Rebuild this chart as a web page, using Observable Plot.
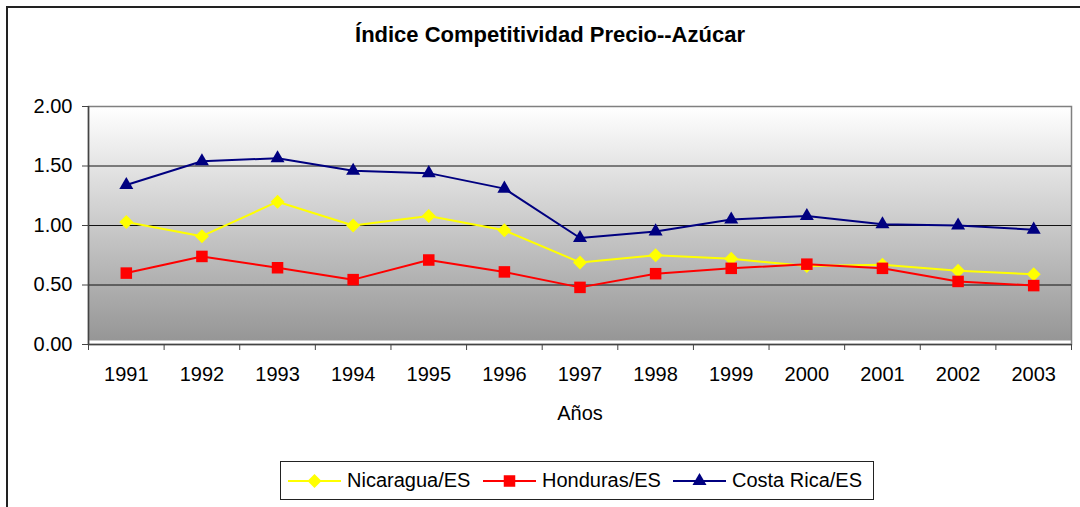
<!DOCTYPE html>
<html>
<head>
<meta charset="utf-8">
<script src="https://cdn.jsdelivr.net/npm/d3@7"></script>
<script src="https://cdn.jsdelivr.net/npm/@observablehq/plot@0.6"></script>
<style>
  html, body { margin: 0; padding: 0; background: #fff; }
  #wrap { position: relative; width: 1080px; height: 507px; overflow: hidden; background: #fff;
          font-family: "Liberation Sans", Arial, sans-serif; color: #000; }
  #border { position: absolute; left: 6px; top: 6px; width: 1200px; height: 600px;
            border-left: 2px solid #222; border-top: 2px solid #222; }
  #title { position: absolute; top: 24px; left: 550px; transform: translateX(-50%); white-space: nowrap;
           font-size: 22px; line-height: 22px; font-weight: bold; }
  #chart { position: absolute; left: 0; top: 0; }
  #legend { position: absolute; left: 280px; top: 461px; width: 594px; height: 39px;
            border: 1px solid #222; box-sizing: border-box; background: #fff; }
  .item { position: absolute; top: 0; height: 37px; display: flex; align-items: center; font-size: 20px; }
  .item svg { margin-right: 6px; }
</style>
</head>
<body>
<div id="wrap">
  <div id="border"></div>
  <div id="title">Índice Competitividad Precio--Azúcar</div>
  <div id="chart"></div>
  <div id="legend"></div>
</div>
<script>
const years = [1991, 1992, 1993, 1994, 1995, 1996, 1997, 1998, 1999, 2000, 2001, 2002, 2003];
const nicaragua = [1.03, 0.91, 1.20, 1.00, 1.08, 0.96, 0.69, 0.75, 0.72, 0.66, 0.67, 0.62, 0.59];
const honduras  = [0.60, 0.74, 0.645, 0.545, 0.71, 0.61, 0.48, 0.595, 0.64, 0.675, 0.64, 0.53, 0.495];
const costaRica = [1.34, 1.54, 1.565, 1.46, 1.44, 1.31, 0.895, 0.95, 1.05, 1.08, 1.01, 1.00, 0.965];
const seriesNames = ["Nicaragua/ES", "Honduras/ES", "Costa Rica/ES"];
const seriesColors = ["#FFFF00", "#FF0000", "#000080"];
const seriesSymbols = ["diamond2", "square", "triangle"];
const seriesR = [6.3, 6.5, 5.2];
const yTicks = [0, 0.5, 1, 1.5, 2];

const seriesValues = [nicaragua, honduras, costaRica];
const rows = [];
seriesNames.forEach((name, i) => {
  years.forEach((yr, j) => rows.push({series: name, year: yr, value: seriesValues[i][j]}));
});
const xMin = years[0] - 0.5, xMax = years[years.length - 1] + 0.5;
const bounds = [...years.map(y => y - 0.5), xMax];

const marks = [
  Plot.frame({fill: "url(#bgGrad)", stroke: null, insetBottom: 4}),
  Plot.frame({fill: "none", stroke: "#808080", strokeWidth: 1.5}),
  Plot.ruleY([0.5, 1, 1.5], {stroke: "#111", strokeWidth: 1}),
  Plot.ruleY([0], {stroke: "#444", strokeWidth: 1.5}),
  Plot.ruleX([xMin], {stroke: "#444", strokeWidth: 1.5}),
  Plot.axisY({ticks: yTicks, tickFormat: d => d.toFixed(2), tickSize: 6, tickPadding: 10, stroke: "#444", label: null, fontSize: 20}),
  Plot.axisX({ticks: years, tickFormat: d => String(d), tickSize: 0, tickPadding: 22, label: null, fontSize: 20}),
  Plot.axisX({ticks: bounds, tickFormat: () => "", tickSize: 6, stroke: "#444", label: null}),
  Plot.text(["Años"], {frameAnchor: "bottom", dy: 75, fontSize: 20, text: d => d})
];
seriesNames.forEach((name, i) => {
  const data = rows.filter(r => r.series === name);
  marks.push(Plot.line(data, {x: "year", y: "value", stroke: seriesColors[i], strokeWidth: 2}));
  marks.push(Plot.dot(data, {x: "year", y: "value", fill: seriesColors[i], stroke: "none", symbol: seriesSymbols[i], r: seriesR[i]}));
});

const chart = Plot.plot({
  width: 1080,
  height: 440,
  marginLeft: 88,
  marginRight: 9,
  marginTop: 106,
  marginBottom: 96,
  style: {fontFamily: "'Liberation Sans', Arial, sans-serif", fontSize: "20px", color: "#000", background: "transparent", overflow: "visible"},
  x: {type: "linear", domain: [xMin, xMax]},
  y: {domain: [0, 2]},
  marks
});

// gradient definition for plot background
const ns = "http://www.w3.org/2000/svg";
const defs = document.createElementNS(ns, "defs");
defs.innerHTML = '<linearGradient id="bgGrad" x1="0" y1="0" x2="0" y2="1">' +
  '<stop offset="0" stop-color="#ffffff"/><stop offset="1" stop-color="#969696"/></linearGradient>';
chart.insertBefore(defs, chart.firstChild);
document.getElementById("chart").appendChild(chart);

// legend
const legend = document.getElementById("legend");
const lefts = [7, 202, 392];
const symbolGen = {diamond2: d3.symbolDiamond2, square: d3.symbolSquare, triangle: d3.symbolTriangle};
seriesNames.forEach((name, i) => {
  const item = document.createElement("div");
  item.className = "item";
  item.style.left = lefts[i] + "px";
  const path = d3.symbol(symbolGen[seriesSymbols[i]], Math.PI * seriesR[i] * seriesR[i])();
  item.innerHTML = `<svg width="53" height="20" viewBox="0 0 53 20">
      <line x1="0" x2="53" y1="10" y2="10" stroke="${seriesColors[i]}" stroke-width="2"/>
      <path d="${path}" transform="translate(26.5,10)" fill="${seriesColors[i]}"/></svg><span>${name}</span>`;
  legend.appendChild(item);
});
</script>
</body>
</html>
